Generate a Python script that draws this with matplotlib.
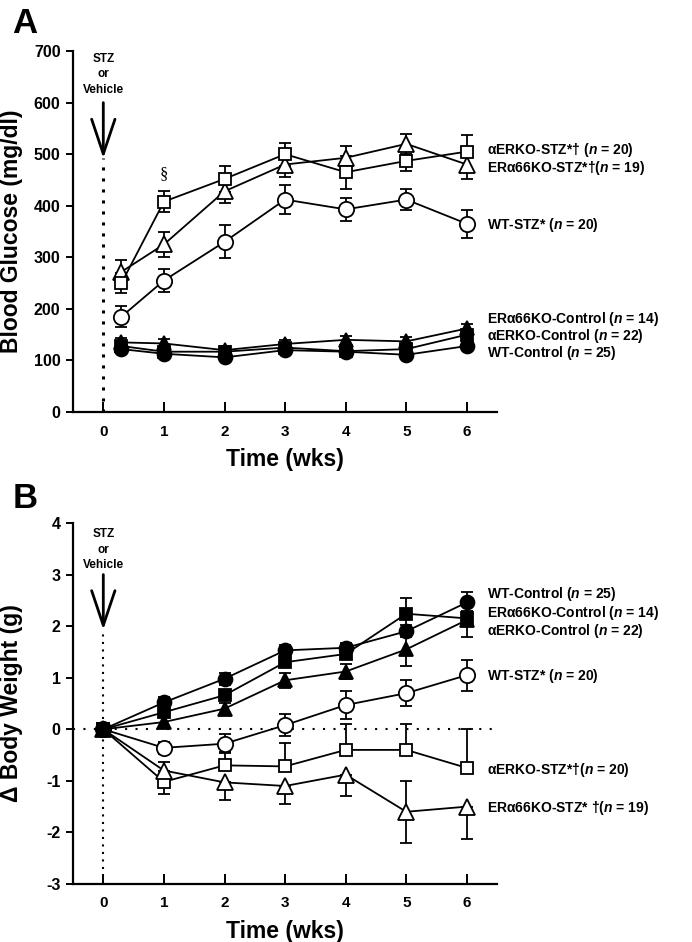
"""
Blood glucose and body weight change after STZ or vehicle, two stacked panels.
"""

import matplotlib
matplotlib.use("Agg")
import matplotlib.pyplot as plt

# ---- panel A: blood glucose (mg/dl) ----
weeks_a = [0.3, 1, 2, 3, 4, 5, 6]
glu_wt_stz = [185, 255, 330, 412, 393, 412, 365]
glu_wt_stz_err = [20, 22, 32, 28, 22, 20, 27]
glu_aerko_stz = [250, 408, 452, 500, 465, 487, 505]
glu_aerko_stz_err = [20, 20, 25, 22, 32, 20, 33]
glu_era66_stz = [272, 325, 428, 480, 493, 520, 480]
glu_era66_stz_err = [22, 25, 22, 25, 22, 20, 28]
glu_wt_ctl = [122, 113, 106, 120, 117, 111, 128]
glu_aerko_ctl = [128, 117, 117, 125, 118, 122, 150]
glu_era66_ctl = [135, 133, 120, 132, 140, 137, 162]
glu_ctl_err = [8, 8, 8, 8, 8, 8, 8]

# ---- panel B: change in body weight (g) ----
weeks_b = [0, 1, 2, 3, 4, 5, 6]
bw_wt_ctl = [0, 0.52, 0.98, 1.53, 1.58, 1.9, 2.46]
bw_wt_ctl_err = [0, 0.1, 0.12, 0.1, 0.1, 0.12, 0.2]
bw_aerko_ctl = [0, 0.33, 0.66, 1.3, 1.46, 2.24, 2.15]
bw_aerko_ctl_err = [0, 0.1, 0.1, 0.1, 0.1, 0.3, 0.15]
bw_era66_ctl = [0, 0.14, 0.4, 0.95, 1.12, 1.55, 2.12]
bw_era66_ctl_err = [0, 0.1, 0.1, 0.15, 0.15, 0.33, 0.33]
bw_wt_stz = [0, -0.36, -0.28, 0.08, 0.47, 0.7, 1.05]
bw_wt_stz_err = [0, 0.12, 0.18, 0.22, 0.28, 0.25, 0.3]
bw_aerko_stz = [0, -1.02, -0.7, -0.72, -0.4, -0.4, -0.75]
bw_aerko_stz_lo = [0, 0.23, 0, 0, 0, 0, 0]
bw_aerko_stz_hi = [0, 0, 0.25, 0.45, 0.5, 0.5, 0.75]
bw_era66_stz = [0, -0.8, -1.03, -1.1, -0.88, -1.6, -1.5]
bw_era66_stz_lo = [0, 0, 0.34, 0.35, 0.42, 0.6, 0.62]
bw_era66_stz_hi = [0, 0.17, 0, 0, 0, 0.6, 0]

labels_a = [
    ("\u03b1ERKO-STZ*\u2020 ($n$ = 20)", 508),
    ("ER\u03b166KO-STZ*\u2020($n$ = 19)", 473),
    ("WT-STZ* ($n$ = 20)", 363),
    ("ER\u03b166KO-Control ($n$ = 14)", 181),
    ("\u03b1ERKO-Control ($n$ = 22)", 148),
    ("WT-Control ($n$ = 25)", 115),
]
labels_b = [
    ("WT-Control ($n$ = 25)", 2.63),
    ("ER\u03b166KO-Control ($n$ = 14)", 2.25),
    ("\u03b1ERKO-Control ($n$ = 22)", 1.9),
    ("WT-STZ* ($n$ = 20)", 1.03),
    ("\u03b1ERKO-STZ*\u2020($n$ = 20)", -0.79),
    ("ER\u03b166KO-STZ* \u2020($n$ = 19)", -1.53),
]

plt.rcParams["font.family"] = ["Liberation Sans", "DejaVu Sans"]
plt.rcParams["font.weight"] = "bold"
plt.rcParams["axes.unicode_minus"] = False
plt.rcParams["mathtext.fontset"] = "custom"
plt.rcParams["mathtext.rm"] = "Liberation Sans:bold"
plt.rcParams["mathtext.it"] = "Liberation Sans:italic:bold"


def _series(ax, x, y, err, marker, filled, ms=10, z=3):
    face = "black" if filled else "white"
    ax.errorbar(x, y, yerr=err, fmt="-", color="black", lw=1.3, elinewidth=1.3,
                capsize=4, capthick=1.3, marker=marker, ms=ms, mfc=face,
                mec="black", mew=1.3, zorder=z, clip_on=False)


def _style_axis(ax, ylim, yticks, ylabel):
    ax.set_xlim(-0.5, 6.5)
    ax.set_ylim(*ylim)
    ax.set_xticks(range(0, 7))
    ax.set_yticks(yticks)
    for s in ("top", "right"):
        ax.spines[s].set_visible(False)
    for s in ("left", "bottom"):
        ax.spines[s].set_linewidth(1.6)
    ax.tick_params(axis="y", direction="out", length=5, width=1.4, labelsize=11.5, pad=4)
    ax.tick_params(axis="x", direction="in", length=7, width=1.4, labelsize=11, pad=9)
    for lab in ax.get_xticklabels() + ax.get_yticklabels():
        lab.set_fontweight("bold")
    ax.set_xlabel("Time (wks)", fontsize=16.5, fontweight="bold", labelpad=7)
    ax.set_ylabel(ylabel, fontsize=16.5, fontweight="bold")
    ax.yaxis.set_label_coords(-0.118, 0.5)


def _injection_marker(ax, text_top, shaft_top, tip, bottom, dot_lw):
    ax.text(0, text_top, "STZ\nor\nVehicle", ha="center", va="top", fontsize=8.5,
            fontweight="bold", linespacing=1.4)
    ax.annotate("", xy=(0, tip), xytext=(0, shaft_top),
                arrowprops=dict(arrowstyle="->,head_length=1.25,head_width=0.42",
                                lw=2.0, color="black", shrinkA=0, shrinkB=0,
                                mutation_scale=20))
    ax.plot([0, 0], [bottom, tip], color="black", lw=dot_lw,
            ls=(0, (1, 2.6)), zorder=1, clip_on=False)


fig = plt.figure(figsize=(6.92, 9.42), dpi=100)

# ---- panel A ----
axA = fig.add_axes([0.1055, 0.5626, 0.613, 0.3832])
_style_axis(axA, (0, 700), range(0, 701, 100), "Blood Glucose (mg/dl)")
_injection_marker(axA, 697, 600, 492, 0, 2.2)

_series(axA, weeks_a, glu_wt_ctl, glu_ctl_err, "o", True)
_series(axA, weeks_a, glu_aerko_ctl, glu_ctl_err, "s", True, ms=9)
_series(axA, weeks_a, glu_era66_ctl, glu_ctl_err, "^", True)
_series(axA, weeks_a, glu_wt_stz, glu_wt_stz_err, "o", False, ms=11)
_series(axA, weeks_a, glu_era66_stz, glu_era66_stz_err, "^", False, ms=11)
_series(axA, weeks_a, glu_aerko_stz, glu_aerko_stz_err, "s", False, ms=9)

axA.text(1, 446, "\u00a7", ha="center", va="bottom", fontsize=12,
         fontweight="normal", family=["Liberation Serif", "DejaVu Serif"])
for txt, yy in labels_a:
    axA.text(6.33, yy, txt, ha="left", va="center", fontsize=10,
             fontweight="bold", clip_on=False)
fig.text(0.018, 0.993, "A", ha="left", va="top", fontsize=25, fontweight="bold")

# ---- panel B ----
axB = fig.add_axes([0.1055, 0.0616, 0.613, 0.3832])
_style_axis(axB, (-3, 4), range(-3, 5), "\u0394 Body Weight (g)")
axB.plot([-0.5, 6.5], [0, 0], color="black", lw=1.5, ls=(0, (1, 4)), zorder=1)
_injection_marker(axB, 3.9, 3.0, 1.93, -3, 1.5)

_series(axB, weeks_b, bw_wt_stz, bw_wt_stz_err, "o", False, ms=11)
_series(axB, weeks_b, bw_aerko_stz, [bw_aerko_stz_lo, bw_aerko_stz_hi], "s", False, ms=9)
_series(axB, weeks_b, bw_era66_stz, [bw_era66_stz_lo, bw_era66_stz_hi], "^", False, ms=11)
_series(axB, weeks_b, bw_era66_ctl, bw_era66_ctl_err, "^", True)
_series(axB, weeks_b, bw_aerko_ctl, bw_aerko_ctl_err, "s", True, ms=9)
_series(axB, weeks_b, bw_wt_ctl, bw_wt_ctl_err, "o", True)

for txt, yy in labels_b:
    axB.text(6.33, yy, txt, ha="left", va="center", fontsize=10,
             fontweight="bold", clip_on=False)
fig.text(0.018, 0.488, "B", ha="left", va="top", fontsize=25, fontweight="bold")

fig.savefig("out.png", dpi=100)
plt.close(fig)
